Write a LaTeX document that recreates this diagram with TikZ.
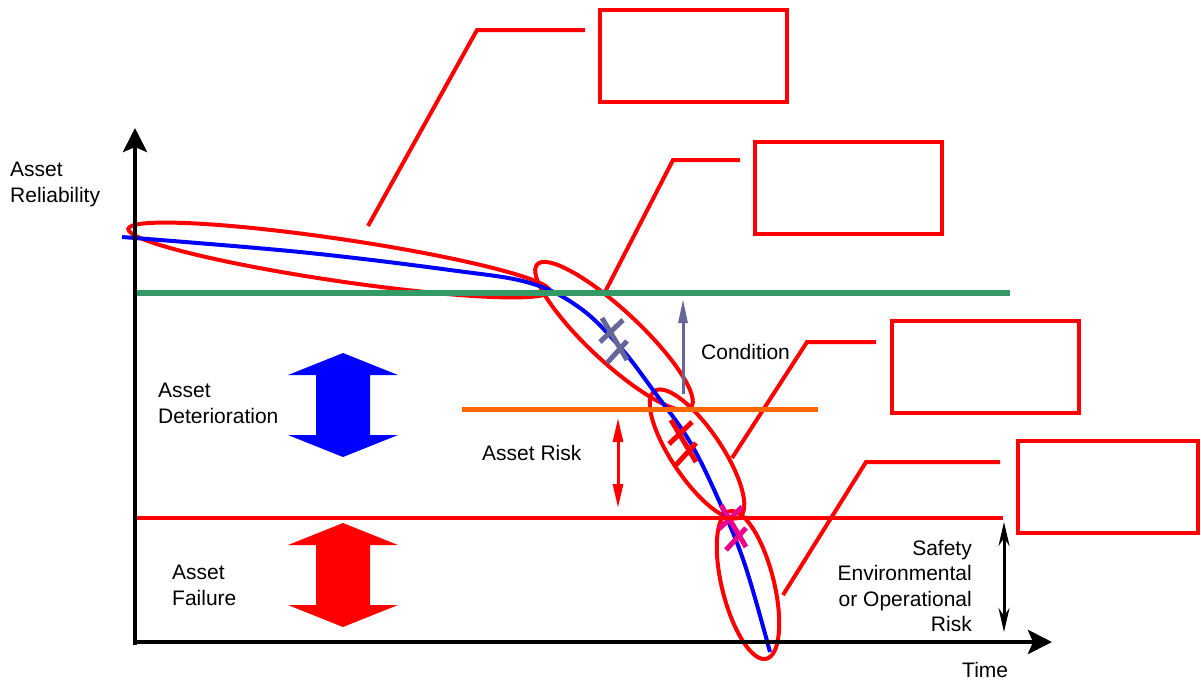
\documentclass[tikz,border=0pt]{standalone}
\usepackage{fontspec}
\setmainfont{Liberation Sans}
\usetikzlibrary{arrows.meta}

\definecolor{limitgreen}{HTML}{339966}
\definecolor{limitorange}{HTML}{FF6600}
\definecolor{condgrey}{HTML}{666699}

\tikzset{
  lbl/.style={font=\fontsize{21}{25.5}\selectfont, inner sep=0pt},
  ring/.style={red, line width=4pt},
  leader/.style={red, line width=4pt, line join=miter},
  calloutbox/.style={draw=red, line width=4pt, minimum width=187pt, minimum height=92pt, inner sep=0pt},
  axis/.style={line width=4.5pt, -{Stealth[length=24pt,width=24pt,inset=5pt]}},
}

\begin{document}
\begin{tikzpicture}[x=1pt, y=-1pt]
  \useasboundingbox (0,0) rectangle (1201,683);

  % empty callout boxes
  \node[calloutbox] (box1) at (693,55.5) {};
  \node[calloutbox] (box2) at (848,188) {};
  \node[calloutbox] (box3) at (985,366.5) {};
  \node[calloutbox, minimum width=180pt] (box4) at (1107.5,486.5) {};

  % leader lines from the rings to the boxes
  \coordinate (l1a) at (368,226); \coordinate (l1b) at (477,30);  \coordinate (l1c) at (585,30);
  \coordinate (l2a) at (605,292); \coordinate (l2b) at (673,160); \coordinate (l2c) at (740,160);
  \coordinate (l3a) at (732,458); \coordinate (l3b) at (807,342); \coordinate (l3c) at (876,342);
  \coordinate (l4a) at (783,595); \coordinate (l4b) at (866,462); \coordinate (l4c) at (1000,462);
  \foreach \n in {1,...,4} {\draw[leader] (l\n a) -- (l\n b) -- (l\n c);}

  % rings round the stages of the curve
  \draw[ring, rotate around={-8.4:(339,260)}] (339,260) ellipse (213 and 21);
  \draw[ring, rotate around={-43:(614,336)}] (614,336) ellipse (105 and 26);
  \draw[ring, rotate around={-56:(697,454)}] (697,454) ellipse (76 and 25);
  \draw[ring, rotate around={-76:(748,585)}] (748,585) ellipse (76 and 26);

  % reliability curve
  \draw[blue, line width=4pt] plot[smooth, tension=0.6] coordinates
    {(122,237) (300,252) (450,270) (530,283) (580,308) (620,347) (653,390)
     (690,442) (720,503) (745,565) (770,652)};

  % crosses on the curve
  \foreach \cx/\cy/\col in {614/340/condgrey, 683/442/red, 733/527/magenta}
    \draw[\col, line width=5pt] (\cx-12,\cy-22) -- (\cx+13,\cy+20)
      (\cx-14,\cy+2) -- (\cx+9,\cy-20) (\cx-7,\cy+23) -- (\cx+13,\cy+1);

  % threshold lines
  \draw[limitgreen, line width=5.5pt] (135,293) -- (1010,293);
  \draw[limitorange, line width=5pt] (462,409) -- (818,409);
  \draw[red, line width=4.5pt] (135,518) -- (1003,518);

  % axes
  \draw[axis] (135,645) -- (135,128);
  \draw[axis] (133,642) -- (1052,642);

  % fat double arrows
  \foreach \top/\col in {353/blue, 523/red}
    \fill[\col] (343,\top) -- (398,\top+22) -- (370,\top+22) -- (370,\top+82)
      -- (398,\top+82) -- (343,\top+104) -- (288,\top+82) -- (316,\top+82)
      -- (316,\top+22) -- (288,\top+22) -- cycle;

  % thin double arrows
  \draw[condgrey, line width=3pt, -{Triangle[length=24pt,width=9pt]}] (683,394) -- (683,299);
  \draw[red, line width=3pt, {Triangle[length=24pt,width=10pt]}-{Triangle[length=24pt,width=10pt]}] (618,418) -- (618,508);
  \draw[black, line width=3pt, {Stealth[length=24pt,width=11pt]}-{Stealth[length=24pt,width=11pt]}] (1004,522) -- (1004,632);

  % labels
  \node[lbl, align=left, anchor=north west] (reliab) at (10,162) {Asset\\Reliability};
  \node[lbl, align=left, anchor=north west] (deter) at (158,383) {Asset\\Deterioration};
  \node[lbl, align=left, anchor=north west] (fail) at (172,565) {Asset\\Failure};
  \node[lbl, anchor=north west] (risk) at (482,445) {Asset Risk};
  \node[lbl, anchor=north west] (cond) at (701,344) {Condition};
  \node[lbl, align=right, anchor=north east] (safety) at (972,540) {Safety\\Environmental\\or Operational\\Risk};
  \node[lbl, anchor=north west] (time) at (962,662) {Time};
\end{tikzpicture}
\end{document}
